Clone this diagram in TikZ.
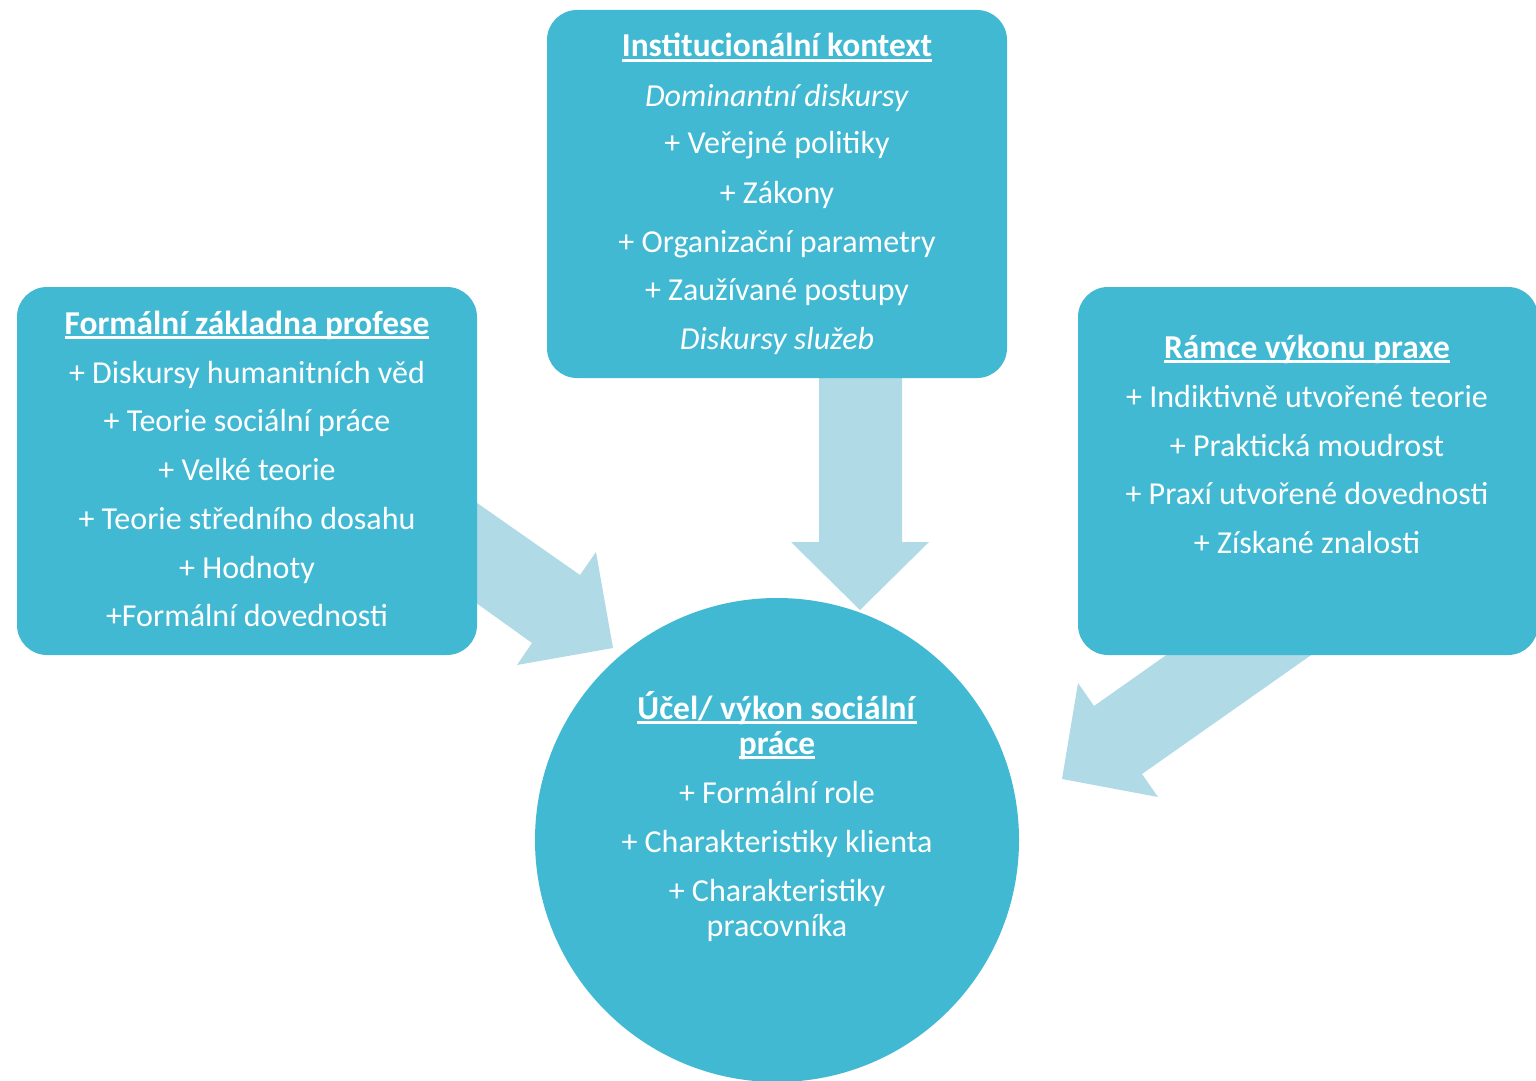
\documentclass[tikz,border=0pt]{standalone}
\usepackage{fontspec}
\setmainfont{Carlito}
\definecolor{boxc}{HTML}{42B9D3}
\definecolor{arrc}{HTML}{B0DAE6}
\newcommand\hdr[1]{\setbox0\hbox{\fontsize{16.7}{19}\selectfont\textbf{#1}}\rlap{\rule[-2.3pt]{\wd0}{1.1pt}}\box0}
\begin{document}
\begin{tikzpicture}[x=0.5pt,y=-0.5pt,
  boxsh/.style={fill=boxc, rounded corners=15pt},
  arr/.style={fill=arrc},
  txt/.style={text=white, anchor=base, inner sep=0pt, font=\fontsize{16}{19}\selectfont}]
\useasboundingbox (0,0) rectangle (1536,1081);
% block arrows
\fill[arr] (440,477) -- (580,575) -- (596,552) -- (613,648) -- (517,665) -- (532,643) -- (440,577) -- cycle;
\fill[arr] (1216,620) -- (1094,706) -- (1078,683) -- (1062,779) -- (1158,797) -- (1142,774) -- (1361,620) -- cycle;
\fill[arr] (819,360) -- (819,542) -- (791,542) -- (860,610) -- (929,542) -- (902,542) -- (902,360) -- cycle;
% shapes
\fill[boxsh] (547,10) rectangle (1007,378);
\fill[boxsh] (17,287) rectangle (477,655);
\fill[boxsh] (1078,287) rectangle (1538,655);
\fill[boxc] (777,840) circle (242);
% top box
\node[txt] (t1) at (777,57) {\hdr{Institucionální kontext}};
\node[txt] (t2) at (777,106) {\textit{Dominantní diskursy}};
\node[txt] (t3) at (777,154) {+ Veřejné politiky};
\node[txt] (t4) at (777,203) {+ Zákony};
\node[txt] (t5) at (777,252) {+ Organizační parametry};
\node[txt] (t6) at (777,300) {+ Zaužívané postupy};
\node[txt] (t7) at (777,349) {\textit{Diskursy služeb}};
% left box
\node[txt] (l1) at (247,334) {\hdr{Formální základna profese}};
\node[txt] (l2) at (247,383) {+ Diskursy humanitních věd};
\node[txt] (l3) at (247,431) {+ Teorie sociální práce};
\node[txt] (l4) at (247,480) {+ Velké teorie};
\node[txt] (l5) at (247,529) {+ Teorie středního dosahu};
\node[txt] (l6) at (247,578) {+ Hodnoty};
\node[txt] (l7) at (247,626) {+Formální dovednosti};
% right box
\node[txt] (r1) at (1307,358) {\hdr{Rámce výkonu praxe}};
\node[txt] (r2) at (1307,407) {+ Indiktivně utvořené teorie};
\node[txt] (r3) at (1307,456) {+ Praktická moudrost};
\node[txt] (r4) at (1307,504) {+ Praxí utvořené dovednosti};
\node[txt] (r5) at (1307,553) {+ Získané znalosti};
% circle
\node[txt] (c1) at (777,719) {\hdr{Účel/ výkon sociální}};
\node[txt] (c2) at (777,754) {\hdr{práce}};
\node[txt] (c3) at (777,803) {+ Formální role};
\node[txt] (c4) at (777,852) {+ Charakteristiky klienta};
\node[txt] (c5) at (777,901) {+ Charakteristiky};
\node[txt] (c6) at (777,936) {pracovníka};
\end{tikzpicture}
\end{document}
